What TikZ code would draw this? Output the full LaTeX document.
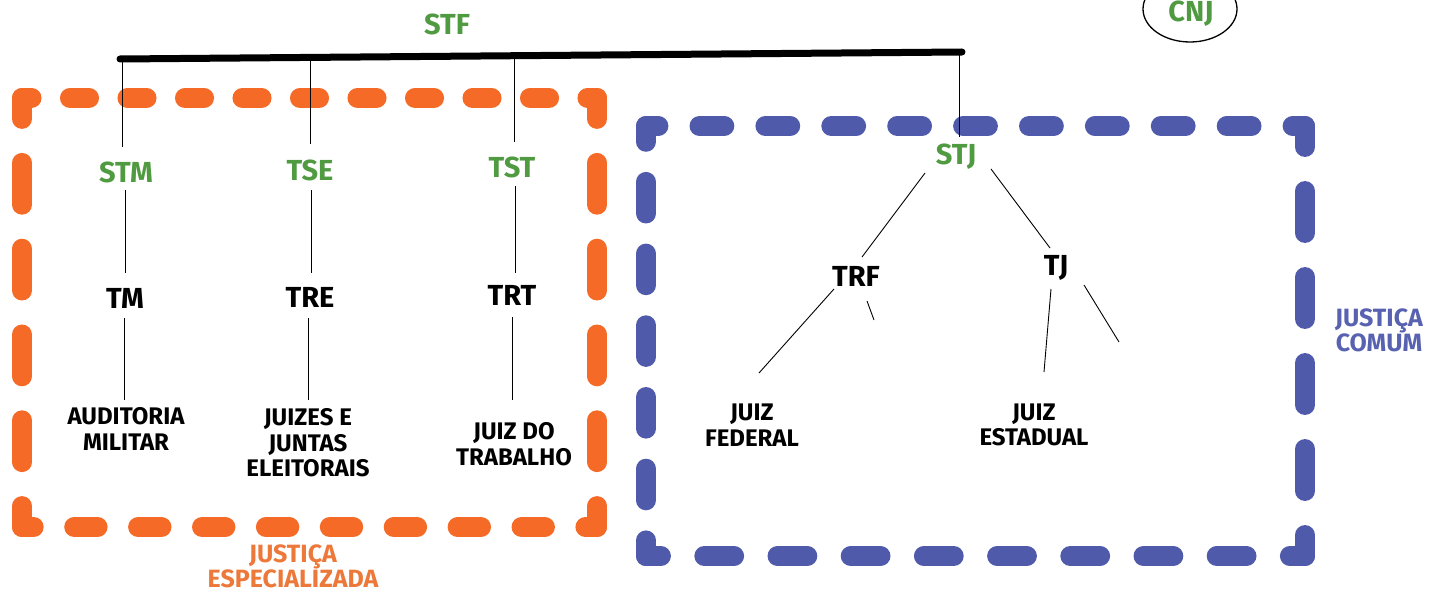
\documentclass[tikz,border=0pt]{standalone}
\usepackage{fontspec}
\setmainfont{Fira Sans}
\usetikzlibrary{shapes.geometric}
\definecolor{lblgreen}{RGB}{80,155,66}
\definecolor{dashorange}{RGB}{244,106,38}
\definecolor{dashblue}{RGB}{80,90,170}
\definecolor{txtorange}{RGB}{236,120,58}
\definecolor{txtblue}{RGB}{88,98,176}
\tikzset{
  court/.style={font=\bfseries\fontsize{29}{31}\selectfont, text=lblgreen, inner sep=0pt},
  trib/.style={font=\bfseries\fontsize{29}{31}\selectfont, text=black, inner sep=0pt},
  judge/.style={font=\bfseries\fontsize{24}{25.5}\selectfont, text=black, align=center, inner sep=0pt},
  grp/.style={font=\bfseries\fontsize{25}{25}\selectfont, align=center, inner sep=0pt},
  link/.style={draw=black, line width=0.9pt},
  side/.style={line width=20pt, line cap=round}
}
\begin{document}
\begin{tikzpicture}[x=1pt,y=-1pt]
\useasboundingbox (0,0) rectangle (1432,596);
% dashed frames
\draw[side, dashorange, dash pattern=on 19.1pt off 38.4pt, dash phase=9.55pt] (22,98) -- (597,98);
\draw[side, dashorange, dash pattern=on 23.4pt off 40.5pt, dash phase=11.7pt] (22,527) -- (597,527);
\draw[side, dashorange, dash pattern=on 41.8pt off 44pt, dash phase=20.9pt] (22,98) -- (22,527);
\draw[side, dashorange, dash pattern=on 41.8pt off 44pt, dash phase=20.9pt] (597,98) -- (597,527);
\draw[side, dashblue, dash pattern=on 24.8pt off 41.1pt, dash phase=12.4pt] (646,126) -- (1305,126);
\draw[side, dashblue, dash pattern=on 29.8pt off 43.4pt, dash phase=14.9pt] (646,556) -- (1305,556);
\draw[side, dashblue, dash pattern=on 31.6pt off 40.1pt, dash phase=15.8pt] (646,126) -- (646,556);
\draw[side, dashblue, dash pattern=on 41.9pt off 44.1pt, dash phase=20.95pt] (1305,126) -- (1305,556);
% STF bar
\node[court] (stf) at (447,24) {STF};
\coordinate (bl) at (120,59);
\coordinate (br) at (962,52);
\draw[line width=7pt, line cap=round] (bl) -- (br);
\coordinate (b1) at (122.5,59);
\coordinate (b2) at (310,57);
\coordinate (b3) at (514,55.5);
\coordinate (b4) at (959,52);
% CNJ
\node[court, ellipse, draw=black, line width=1.3pt, minimum width=94pt, minimum height=66pt] (cnj) at (1190,9) {};
\node[court] (cnjt) at (1191,14) {CNJ};
% courts
\node[court] (stm) at (126,172) {STM};
\node[court] (tse) at (310,170) {TSE};
\node[court] (tst) at (512,167) {TST};
\node[court] (stj) at (956,157) {STJ};
\node[trib] (tm) at (125,298) {TM};
\node[trib] (tre) at (310,297) {TRE};
\node[trib] (trt) at (512,295) {TRT};
\node[trib] (trf) at (856,276) {TRF};
\node[trib] (tj) at (1056,268) {TJ};
\node[judge] (aud) at (126,429) {AUDITORIA\\MILITAR};
\node[judge] (jje) at (308,443) {JUIZES E\\JUNTAS\\ELEITORAIS};
\node[judge] (jdt) at (514,444) {JUIZ DO\\TRABALHO};
\node[judge] (jf) at (752,425) {JUIZ\\FEDERAL};
\node[judge] (je) at (1034,425) {JUIZ\\ESTADUAL};
\node[grp, text=txtorange] (jesp) at (293,566) {JUSTIÇA\\ESPECIALIZADA};
\node[grp, text=txtblue] (jcom) at (1379,330) {JUSTIÇA\\COMUM};
\coordinate (trfs) at (874,320);
\coordinate (tjs) at (1119,342);
% connectors
\draw[link] (b1) -- ([shift={(-3.5,-25)}]stm.center);
\draw[link] ([shift={(-1,18)}]stm.center) -- ([shift={(0,-25)}]tm.center);
\draw[link] ([shift={(-1,20)}]tm.center) -- ([shift={(-2,-29)}]aud.center);
\draw[link] (b2) -- ([shift={(0,-26)}]tse.center);
\draw[link] ([shift={(1,20)}]tse.center) -- ([shift={(1,-24)}]tre.center);
\draw[link] ([shift={(-2,21)}]tre.center) -- ([shift={(0,-43)}]jje.center);
\draw[link] (b3) -- ([shift={(2,-25)}]tst.center);
\draw[link] ([shift={(3,19)}]tst.center) -- ([shift={(3,-22)}]trt.center);
\draw[link] ([shift={(0,22)}]trt.center) -- ([shift={(-2,-44)}]jdt.center);
\draw[link] (b4) -- ([shift={(3,-20)}]stj.center);
\draw[link] ([shift={(-31,16)}]stj.center) -- ([shift={(6,-19)}]trf.center);
\draw[link] ([shift={(35,12)}]stj.center) -- ([shift={(-6,-20)}]tj.center);
\draw[link] ([shift={(-22,13)}]trf.center) -- ([shift={(7,-52)}]jf.center);
\draw[link] ([shift={(11,25)}]trf.center) -- (trfs);
\draw[link] ([shift={(-5,21)}]tj.center) -- ([shift={(10,-53)}]je.center);
\draw[link] ([shift={(28,17)}]tj.center) -- (tjs);
\end{tikzpicture}
\end{document}
